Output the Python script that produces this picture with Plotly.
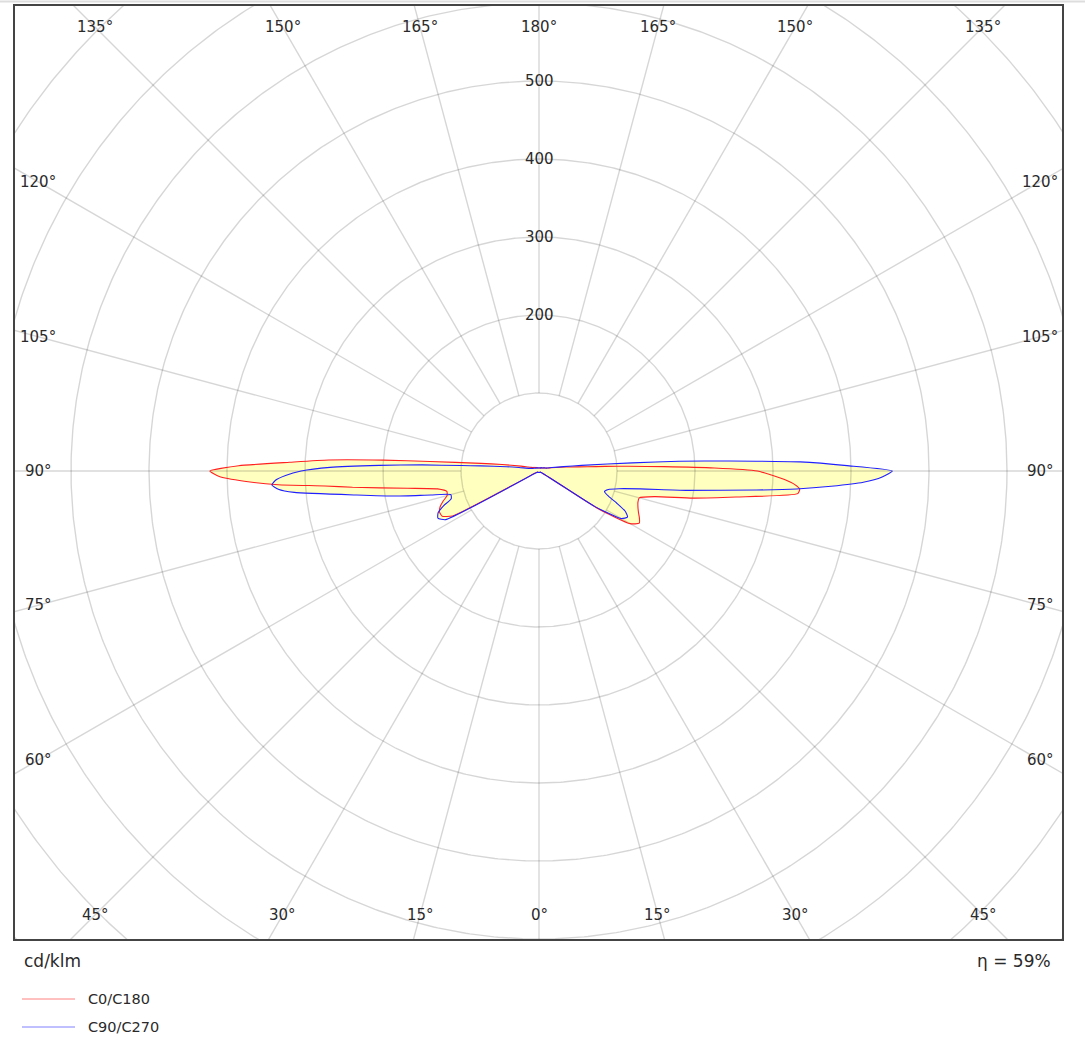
import numpy as np
import plotly.graph_objects as go

# Luminous intensity distribution (cd/klm) per gamma angle, four C-planes
gamma = [0, 5, 10, 15, 20, 25, 30, 35, 40, 45, 50, 55, 57.5, 60, 62.5, 65, 67.5, 70,
         72.5, 75, 77.5, 80, 82.5, 85, 86, 87, 88, 89, 90, 91, 92, 93, 94, 95,
         97.5, 100, 105, 110, 115, 120, 125, 130, 135, 140, 145, 150, 155, 160,
         165, 170, 175, 180]

c0 = [2, 2, 2, 2, 2, 2, 2, 2, 2, 2, 3, 3, 90, 135, 145, 142, 138, 135,
      133, 133, 152, 200, 255, 333, 335, 328, 315, 298, 280, 225, 160, 115, 85, 62,
      40, 28, 16, 11, 9, 8, 7, 6, 6, 5, 5, 5, 4, 4, 4, 4, 4, 4]
c180 = [2, 2, 2, 2, 2, 2, 2, 2, 2, 2, 3, 3, 3, 4, 125, 137, 138, 135,
        129, 122, 121, 132, 170, 240, 275, 335, 378, 410, 422, 385, 320, 270, 200, 140,
        75, 48, 24, 15, 11, 9, 8, 7, 6, 6, 5, 5, 5, 4, 4, 4, 4, 4]
c90 = [2, 2, 2, 2, 2, 2, 2, 2, 2, 2, 3, 3, 85, 122, 128, 122, 108, 95,
       88, 92, 105, 132, 190, 280, 331, 375, 416, 440, 453, 395, 335, 245, 180, 120,
       55, 32, 17, 11, 9, 8, 7, 6, 6, 5, 5, 5, 4, 4, 4, 4, 4, 4]
c270 = [2, 2, 2, 2, 2, 2, 2, 2, 2, 2, 3, 3, 4, 6, 135, 143, 140, 130,
        118, 117, 142, 185, 236, 315, 335, 343, 338, 325, 305, 268, 205, 150, 100, 75,
        42, 26, 13, 10, 8, 7, 6, 6, 5, 5, 5, 5, 4, 4, 4, 4, 4, 4]

ring_values = [100, 200, 300, 400, 500, 600, 700, 800, 900]
ring_labels = [200, 300, 400, 500]
spoke_angles = list(range(0, 181, 15))
efficiency = "η = 59%"
unit_label = "cd/klm"
series_names = ["C0/C180", "C90/C270"]

# Canvas geometry
W, H = 1085, 1043
ML, MR, MT, MB = 14, 22, 5, 103
PW, PH = W - ML - MR, H - MT - MB
CX, CY = 539, 471          # pole position in pixels
SCALE = 0.78               # pixels per cd/klm

x_range = [-(CX - ML) / SCALE, (ML + PW - CX) / SCALE]
y_range = [-(MT + PH - CY) / SCALE, (CY - MT) / SCALE]

FONT = "DejaVu Sans"
TXT = "#2a2a2a"
GRID = "rgba(0,0,0,0.16)"


def to_xy(g, r, side):
    g = np.radians(np.asarray(g, dtype=float))
    r = np.asarray(r, dtype=float)
    return side * r * np.sin(g), -r * np.cos(g)


def closed_curve(right, left):
    xr, yr = to_xy(gamma, right, 1)
    xl, yl = to_xy(gamma[::-1], left[::-1], -1)
    return np.concatenate([xr, xl, xr[:1]]), np.concatenate([yr, yl, yr[:1]])


red_x, red_y = closed_curve(c0, c180)
blue_x, blue_y = closed_curve(c90, c270)

SMOOTH = 0.5
fig = go.Figure()

# Filled area under both distributions
for xs, ys in [(red_x, red_y), (blue_x, blue_y)]:
    fig.add_trace(go.Scatter(x=xs, y=ys, mode="lines", fill="toself",
                             fillcolor="#ffffc0",
                             line=dict(width=0, shape="spline", smoothing=SMOOTH),
                             hoverinfo="skip", showlegend=False))

# Concentric rings
t = np.linspace(0, 2 * np.pi, 721)
gx, gy = [], []
for rv in ring_values:
    gx += list(rv * np.cos(t)) + [None]
    gy += list(rv * np.sin(t)) + [None]

# Radial spokes from the innermost ring outwards, both halves
far = 1200
for a in spoke_angles:
    for side in (1, -1):
        if side == -1 and a in (0, 180):
            continue
        x0, y0 = to_xy([a], [ring_values[0]], side)
        x1, y1 = to_xy([a], [far], side)
        gx += [x0[0], x1[0], None]
        gy += [y0[0], y1[0], None]

fig.add_trace(go.Scatter(x=gx, y=gy, mode="lines", line=dict(color=GRID, width=1.4),
                         hoverinfo="skip", showlegend=False))

# Distribution outlines
fig.add_trace(go.Scatter(x=red_x, y=red_y, mode="lines", name=series_names[0],
                         line=dict(color="#ff2020", width=1.1, shape="spline",
                                   smoothing=SMOOTH),
                         showlegend=False))
fig.add_trace(go.Scatter(x=blue_x, y=blue_y, mode="lines", name=series_names[1],
                         line=dict(color="#2020ff", width=1.1, shape="spline",
                                   smoothing=SMOOTH),
                         showlegend=False))

annotations = []

# Ring value labels on the upper vertical spoke
for rv in ring_labels:
    annotations.append(dict(x=0, y=rv, xref="x", yref="y", text=str(rv),
                            showarrow=False, font=dict(family=FONT, size=15, color=TXT),
                            xanchor="center", yanchor="middle"))

# Angle labels along an inset frame
inset_x = (CX - 38) / SCALE
inset_y = (CY - 27) / SCALE
for a in spoke_angles:
    for side in (1, -1):
        if side == -1 and a in (0, 180):
            continue
        g = np.radians(a)
        sx, cy_ = abs(np.sin(g)), abs(np.cos(g))
        tx = inset_x / sx if sx > 1e-9 else np.inf
        ty = inset_y / cy_ if cy_ > 1e-9 else np.inf
        d = min(tx, ty)
        lx, ly = side * d * np.sin(g), -d * np.cos(g)
        annotations.append(dict(x=lx, y=ly, xref="x", yref="y", text=f"{a}°",
                                showarrow=False, font=dict(family=FONT, size=15, color=TXT),
                                xanchor="center", yanchor="middle"))


def px_to_paper(px, py):
    return (px - ML) / PW, (MT + PH - py) / PH


ux, uy = px_to_paper(22, 961)
annotations.append(dict(x=ux, y=uy, xref="paper", yref="paper", text=unit_label,
                        showarrow=False, xanchor="left", yanchor="middle",
                        font=dict(family=FONT, size=17, color=TXT)))
ex, ey = px_to_paper(1053, 961)
annotations.append(dict(x=ex, y=ey, xref="paper", yref="paper", text=efficiency,
                        showarrow=False, xanchor="right", yanchor="middle",
                        font=dict(family=FONT, size=17, color=TXT)))

shapes = [dict(type="rect", xref="paper", yref="paper", x0=0, y0=0, x1=1, y1=1,
               line=dict(color="#444444", width=2), layer="above")]

# Legend drawn below the frame
for i, (name, col) in enumerate(zip(series_names, ["#ff8080", "#8080ff"])):
    ly_px = 999 + 28 * i
    lx0, lyp = px_to_paper(22, ly_px)
    lx1, _ = px_to_paper(75, ly_px)
    shapes.append(dict(type="line", xref="paper", yref="paper", x0=lx0, x1=lx1,
                       y0=lyp, y1=lyp, line=dict(color=col, width=1)))
    tx_, _ = px_to_paper(86, ly_px)
    annotations.append(dict(x=tx_, y=lyp, xref="paper", yref="paper", text=name,
                            showarrow=False, xanchor="left", yanchor="middle",
                            font=dict(family=FONT, size=14.5, color=TXT)))

# Thin page rule at the very top
tl0, tly = px_to_paper(0, 1.5)
tl1, _ = px_to_paper(W, 1.5)
shapes.append(dict(type="line", xref="paper", yref="paper", x0=tl0, x1=tl1,
                   y0=tly, y1=tly, line=dict(color="#dddddd", width=2)))

fig.update_layout(
    width=W, height=H,
    margin=dict(l=ML, r=MR, t=MT, b=MB, pad=0),
    paper_bgcolor="white", plot_bgcolor="white",
    xaxis=dict(range=x_range, visible=False, fixedrange=True),
    yaxis=dict(range=y_range, visible=False, fixedrange=True),
    annotations=annotations, shapes=shapes, showlegend=False,
)

fig.write_html("out.html")
